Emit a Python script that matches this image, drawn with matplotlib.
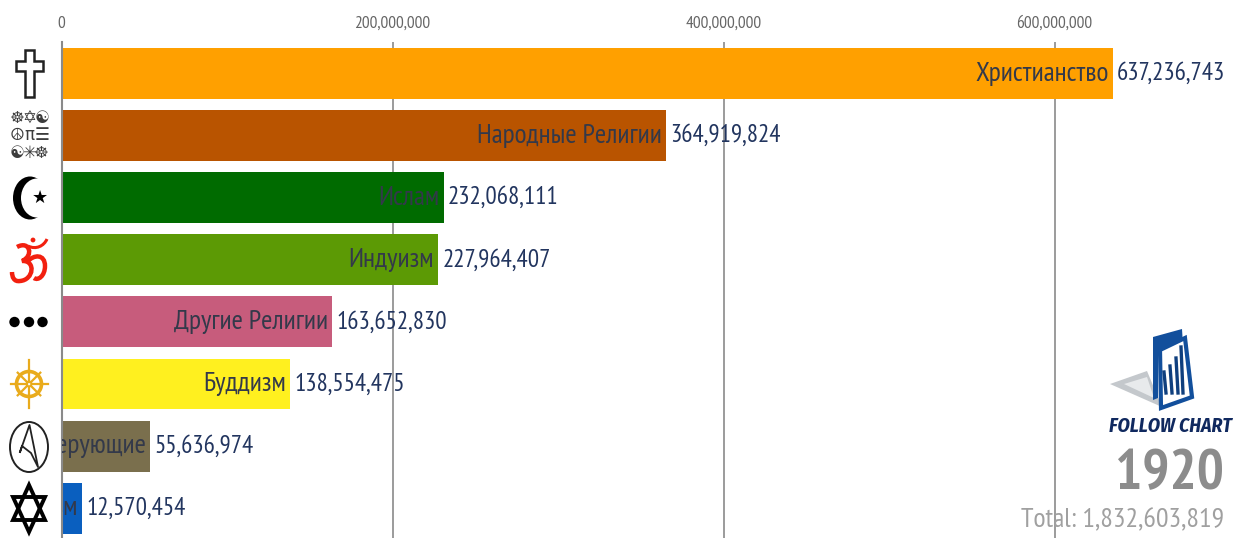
import logging
import numpy as np
import matplotlib
matplotlib.use('Agg')
import matplotlib.pyplot as plt
from matplotlib.patches import Circle, Ellipse, Polygon, PathPatch
from matplotlib.path import Path

logging.getLogger('matplotlib.font_manager').setLevel(logging.ERROR)
plt.rcParams['font.family'] = ['PT Sans Narrow', 'Roboto', 'DejaVu Sans']

# data
religions = ['Христианство', 'Народные Религии', 'Ислам', 'Индуизм',
             'Другие Религии', 'Буддизм', 'Неверующие', 'Иудаизм']
believers = [637236743, 364919824, 232068111, 227964407,
             163652830, 138554475, 55636974, 12570454]
# the frame is from an animation, the bars lag a little behind their labels
bar_lengths = [635300000, 365300000, 231100000, 227500000,
               163700000, 138100000, 53500000, 12400000]
bar_colors = ['#ffa000', '#b95400', '#006b00', '#5c9a05',
              '#c75c7c', '#fff01f', '#7a6f4d', '#0a5fbf']
tick_values = [0, 200000000, 400000000, 600000000]
year = '1920'
total = 1832603819

W, H = 1234, 538
fig = plt.figure(figsize=(W / 100, H / 100), dpi=100)

# chart axes: zero line at px 61.5, 200M every 331 px, first bar centred at 73.5, pitch 62.1
ax = fig.add_axes([61.5 / W, 0, (W - 61.5) / W, (H - 42) / H])
ax.set_xlim(0, (W - 61.5) / 331 * 200000000)
ax.set_ylim((H - 73.5) / 62.1, (42 - 73.5) / 62.1)

y_pos = np.arange(len(religions))
ax.barh(y_pos, bar_lengths, height=0.82, color=bar_colors, zorder=2)

ax.xaxis.tick_top()
ax.set_xticks(tick_values)
ax.set_xticklabels([f'{v:,}' for v in tick_values], fontsize=12.5, color='#666666')
ax.tick_params(axis='x', length=0, pad=7.5)
ax.set_yticks([])
ax.grid(axis='x', color='#8a8a8a', linewidth=1.2, zorder=1)
ax.set_axisbelow(True)
for s in ['top', 'right', 'bottom']:
    ax.spines[s].set_visible(False)
ax.spines['left'].set_color('#8a8a8a')
ax.spines['left'].set_linewidth(1.5)
ax.spines['left'].set_zorder(3)

for i, (name, val, length) in enumerate(zip(religions, believers, bar_lengths)):
    ax.text(length - 2500000, i, name, ha='right', va='center', fontsize=19.8,
            color='#33394a', zorder=4, clip_on=True)
    ax.text(length + 2500000, i, f'{val:,}', ha='left', va='center', fontsize=18,
            color='#22355f', zorder=4)

# overlay in pixel coordinates for the icons and the logo
ov = fig.add_axes([0, 0, 1, 1], facecolor='none')
ov.set_xlim(0, W)
ov.set_ylim(H, 0)
ov.axis('off')

# cross
cross = [(25, 50), (34, 50), (34, 61), (43, 61), (43, 71), (34, 71), (34, 97),
         (25, 97), (25, 71), (16, 71), (16, 61), (25, 61)]
ov.add_patch(Polygon(cross, closed=True, fc='white', ec='#222222', lw=1.8))

# folk religions, nine small symbols
folk = ['☸', '✡', '☯', '☮', 'π', '☰', '☯', '✳', '☸']
for k, g in enumerate(folk):
    ov.text(17 + 12.3 * (k % 3), 118 + 17.5 * (k // 3), g, ha='center', va='center',
            fontsize=12, color='#3c3c3c', family='DejaVu Sans')

# crescent and star
ov.add_patch(Ellipse((30, 198), 34, 43, fc='black', ec='none'))
ov.add_patch(Ellipse((37, 198), 32, 39, fc='white', ec='none'))
ov.text(39.5, 198, '★', ha='center', va='center', fontsize=13, color='black',
        family='DejaVu Sans')

# om
om_codes = [Path.MOVETO, Path.CURVE4, Path.CURVE4, Path.CURVE4, Path.CURVE4, Path.CURVE4,
            Path.CURVE4, Path.CURVE4, Path.CURVE4, Path.CURVE4]
om_pts = [(17, 247), (30, 240), (34, 256), (22, 261), (36, 260), (34, 280), (20, 281),
          (14, 282), (12, 277), (12, 272)]
ov.add_patch(PathPatch(Path(om_pts, om_codes), fc='none', ec='#f2200f', lw=3.2))
om_tail = [(27, 262), (34, 254), (45, 254), (45, 266), (45, 276), (38, 281), (34, 278)]
ov.add_patch(PathPatch(Path(om_tail, [Path.MOVETO] + [Path.CURVE4] * 6), fc='none', ec='#f2200f', lw=3.2))
ov.add_patch(PathPatch(Path([(28, 246), (36, 250), (44, 246), (47, 239)],
                            [Path.MOVETO] + [Path.CURVE4] * 3), fc='none', ec='#f2200f', lw=2.2))
ov.add_patch(Circle((33, 240), 2.4, fc='#f2200f', ec='none'))

# three dots
for cx in [14.5, 29, 42.5]:
    ov.add_patch(Circle((cx, 322), 5.2, fc='black', ec='none'))

# dharma wheel
gold = '#e9ab1c'
ov.add_patch(Circle((29, 384), 12.5, fc='none', ec=gold, lw=2.6))
ov.add_patch(Circle((29, 384), 2.5, fc='none', ec=gold, lw=1.4))
for a in np.deg2rad(np.arange(0, 360, 45)):
    reach = 24 if np.isclose(a % (np.pi / 2), 0) else 16
    if np.isclose(np.sin(a), 0):
        reach = 18.5
    ov.plot([29 + 2.5 * np.cos(a), 29 + reach * np.cos(a)],
            [384 + 2.5 * np.sin(a), 384 + reach * np.sin(a)], color=gold, lw=1.6)

# atheist symbol
ov.add_patch(Ellipse((29, 447), 38, 50, fc='none', ec='#222222', lw=1.4))
ov.plot([20, 29.5, 38, 31, 22, 20], [452, 425, 467, 453, 446, 452], color='#222222', lw=1.3)

# star of david
ov.add_patch(Polygon([(29, 485), (45, 520), (13, 520)], closed=True, fc='none', ec='black', lw=2.8))
ov.add_patch(Polygon([(29, 532), (45, 497), (13, 497)], closed=True, fc='none', ec='black', lw=2.8))

# logo
ov.add_patch(Polygon([(1110, 384), (1147, 371), (1162, 407)], closed=True, fc='#c4c8cc', ec='none'))
ov.add_patch(Polygon([(1124, 384), (1147, 377), (1154, 398)], closed=True, fc='#e8eaec', ec='none'))
ov.add_patch(Polygon([(1153, 337), (1182, 329), (1183, 345), (1158, 350), (1158, 398), (1153, 400)],
                     closed=True, fc='#124f9c', ec='none'))
ov.add_patch(Polygon([(1160, 350), (1185, 338), (1192, 397), (1161, 408)], closed=True,
                     fc='white', ec='#124f9c', lw=3))
for bx, btop in zip([1164, 1170, 1176, 1181], [372, 366, 358, 347]):
    ov.plot([bx, bx + 2], [btop, 393], color='#0f3f7e', lw=2.4)
ov.text(1170, 426, 'FOLLOW CHART', ha='center', va='center', fontsize=14.2, color='#10295f',
        fontweight='bold', style='italic', family=['Fira Sans Condensed', 'Liberation Sans'])

ov.text(1224, 475, year, ha='right', va='center', fontsize=41, fontweight='bold', color='#8c8c8c')
ov.text(1224, 520, f'Total: {total:,}', ha='right', va='center', fontsize=20.2, color='#a0a0a0')

fig.savefig('out.png', dpi=100)
